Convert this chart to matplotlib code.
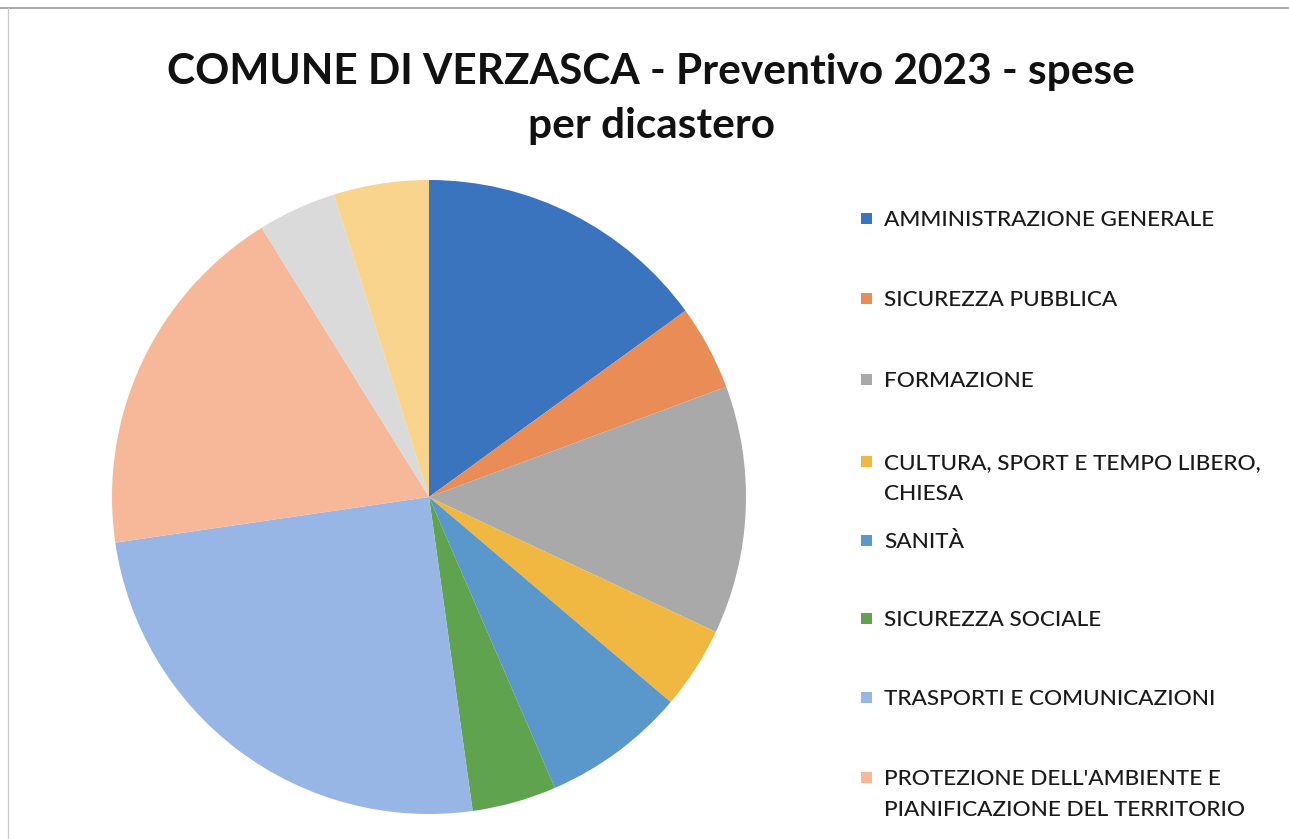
import matplotlib
matplotlib.use("Agg")
import matplotlib.pyplot as plt
from matplotlib.patches import Rectangle
from matplotlib.lines import Line2D

# ---- data (shares in %) ----
categories = [
    "AMMINISTRAZIONE GENERALE",
    "SICUREZZA PUBBLICA",
    "FORMAZIONE",
    "CULTURA, SPORT E TEMPO LIBERO,\nCHIESA",
    "SANITÀ",
    "SICUREZZA SOCIALE",
    "TRASPORTI E COMUNICAZIONI",
    "PROTEZIONE DELL'AMBIENTE E\nPIANIFICAZIONE DEL TERRITORIO",
    "ECONOMIA PUBBLICA",
    "FINANZE E IMPOSTE",
]
values = [15.0, 4.35, 12.65, 4.2, 7.3, 4.3, 24.9, 18.45, 4.0, 4.85]
colors = ["#3A73BE", "#E98C55", "#A9A9A9", "#F0B840", "#5A97CA",
          "#5FA34E", "#97B6E5", "#F6B899", "#DADADA", "#F8D48C"]
legend_shown = 8  # the legend in the original is cut off after 8 entries
title = "COMUNE DI VERZASCA - Preventivo 2023 - spese\nper dicastero"

W, H = 1289, 839
fig = plt.figure(figsize=(W / 100, H / 100), dpi=100)
fig.patch.set_facecolor("white")

def fx(px):
    return px / W

def fy(py):
    return 1 - py / H

# frame lines (scanned chart border)
fig.add_artist(Line2D([0, 1], [fy(8), fy(8)], color="#9a9a9a", lw=1.2))
fig.add_artist(Line2D([fx(8), fx(8)], [fy(8), 0], color="#c8c8c8", lw=0.9))

# ---- pie ----
cx, cy, r = 429, 497, 317
ax = fig.add_axes([fx(cx - r), fy(cy + r), (2 * r) / W, (2 * r) / H])
ax.pie(values, colors=colors, startangle=90, counterclock=False,
       wedgeprops=dict(linewidth=0, antialiased=True))
ax.set_xlim(-1, 1)
ax.set_ylim(-1, 1)
ax.set_aspect("auto")
ax.axis("off")

# ---- title ----
tlines = title.split("\n")
fig.text(fx(651), fy(84), tlines[0], ha="center", va="baseline",
         fontsize=30.5, fontweight="bold", family="Lato", color="#111111")
fig.text(fx(651), fy(138), tlines[1], ha="center", va="baseline",
         fontsize=30.5, fontweight="bold", family="Lato", color="#111111")

# ---- legend (manual, Excel-like fixed pitch) ----
first_line_y = [218, 298, 379, 461, 540, 618, 697, 777]
for i in range(legend_shown):
    yc = first_line_y[i]
    fig.add_artist(Rectangle((fx(861), fy(yc + 6)), 11 / W, 11 / H,
                             transform=fig.transFigure, facecolor=colors[i],
                             edgecolor="none"))
    for j, line in enumerate(categories[i].split("\n")):
        fig.text(fx(884), fy(yc + 8 + 31 * j), line, ha="left",
                 va="baseline", fontsize=16.2, family="Lato",
                 fontweight="medium", color="#1a1a1a")

fig.savefig("out.png", dpi=100, facecolor="white")
